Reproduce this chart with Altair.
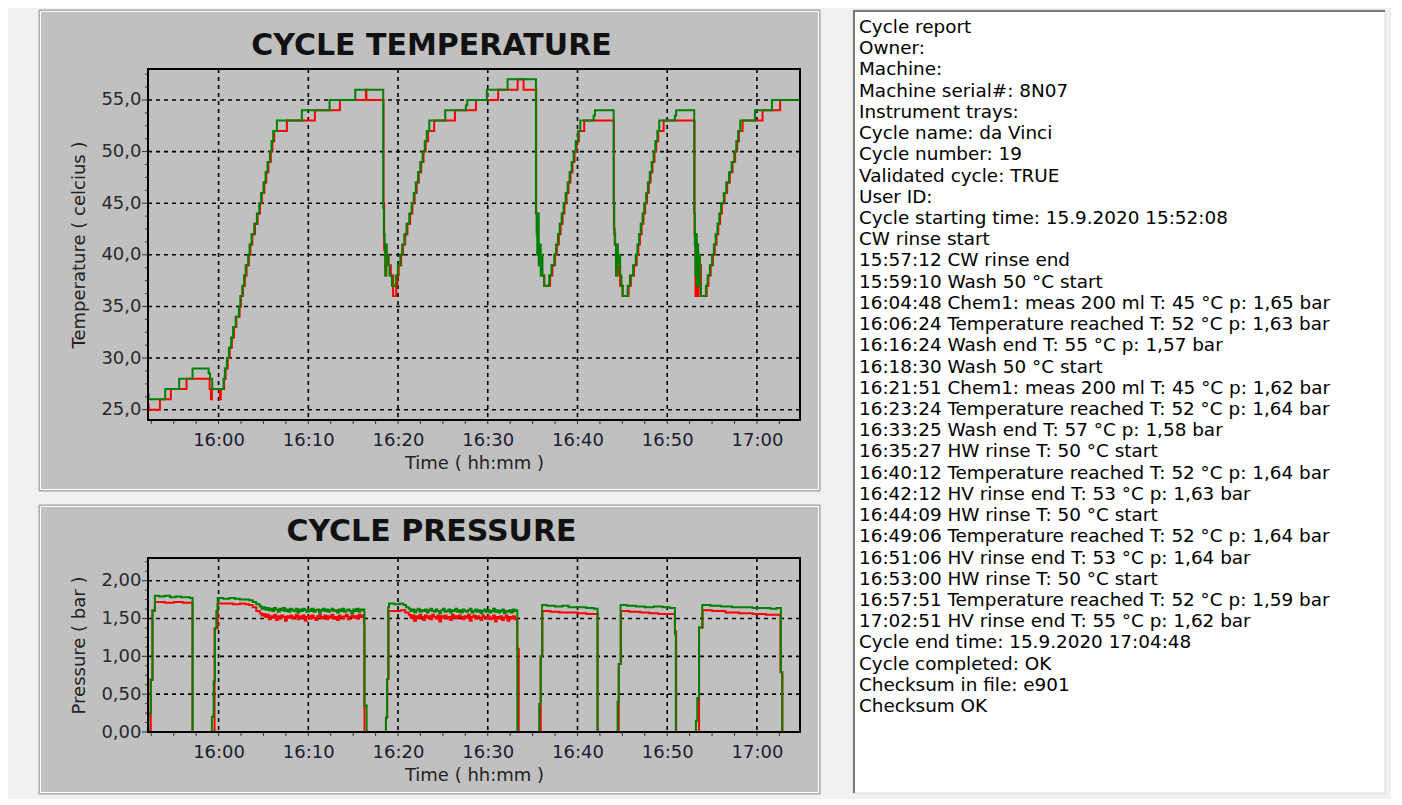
import altair as alt
import numpy as np
import pandas as pd

# ---------------------------------------------------------------
# DATA  (time = minutes after 16:00; cycle 15:52:08 -> 17:04:48)
# ---------------------------------------------------------------
X_DOMAIN = [-7.867, 64.8]
X_MAJOR = [0, 10, 20, 30, 40, 50, 60]
X_TICKS = [-7.5, -5, -2.5, 0, 2.5, 5, 7.5, 10, 12.5, 15, 17.5, 20, 22.5, 25, 27.5,
           30, 32.5, 35, 37.5, 40, 42.5, 45, 47.5, 50, 52.5, 55, 57.5, 60, 62.5]

T_DOMAIN = [24, 58]
T_MAJOR = [25, 30, 35, 40, 45, 50, 55]
T_MINOR = [26.25, 27.5, 28.75, 31.25, 32.5, 33.75, 36.25, 37.5, 38.75, 41.25, 42.5,
           43.75, 46.25, 47.5, 48.75, 51.25, 52.5, 53.75, 56.25, 57.5]

P_DOMAIN = [0, 2.3]
P_MAJOR = [0, 0.5, 1.0, 1.5, 2.0]
P_MINOR = [0.125, 0.25, 0.375, 0.625, 0.75, 0.875, 1.125, 1.25, 1.375, 1.625, 1.75,
           1.875, 2.125, 2.25]

TEMP_GREEN_MIN = [
    -7.867, -7.80, -5.95, -4.39, -2.90, -1.11, -0.95, -0.71, 0.55, 0.70, 0.93, 1.15,
    1.40, 1.62, 1.90, 2.26, 2.42, 2.64, 2.84, 3.02, 3.30, 3.45, 3.67, 3.97, 4.27, 4.53,
    4.73, 5.01, 5.23, 5.45, 5.72, 5.90, 6.09, 6.50, 9.28, 12.37, 15.23,
    18.35, 18.42, 18.50, 18.58, 18.66, 18.75, 18.90, 19.05, 19.32, 19.76, 19.98, 20.25,
    20.45, 20.70, 20.95, 21.25, 21.51, 21.75, 21.98, 22.22, 22.48, 22.74, 22.98, 23.20,
    23.48, 25.26, 27.56, 27.72, 29.90, 32.21,
    35.37, 35.45, 35.52, 35.60, 35.68, 35.80, 35.90, 36.00, 36.10, 36.29, 36.85, 37.10,
    37.41, 37.60, 37.82, 38.02, 38.24, 38.45, 38.68, 38.90, 39.12, 39.35, 39.57, 39.80,
    40.05, 40.31, 41.80, 41.95,
    44.03, 44.10, 44.20, 44.30, 44.38, 44.50, 44.62, 44.75, 44.90, 45.03, 45.59, 45.85,
    46.20, 46.50, 46.68, 46.86, 47.05, 47.25, 47.44, 47.65, 47.85, 48.05, 48.26, 48.48,
    48.68, 48.90, 49.11, 50.86, 51.00,
    53.01, 53.08, 53.15, 53.22, 53.30, 53.38, 53.45, 53.55, 53.65, 53.76, 54.31, 54.50,
    54.75, 55.00, 55.20, 55.40, 55.60, 55.80, 55.99, 56.30, 56.58, 56.88, 57.18, 57.47,
    57.70, 57.90, 58.14, 59.78, 61.67, 64.80]
TEMP_GREEN_C = [
    26.5, 26, 27, 28, 29, 28.5, 28, 27, 28, 29, 30, 31,
    32, 33, 34, 35, 36, 37, 38, 39, 40, 41, 42, 43, 44, 45,
    46, 47, 48, 49, 50, 51, 52, 53, 54, 55, 56,
    44.5, 42, 41, 38, 41, 40, 39, 38, 37, 38, 39, 40,
    41, 42, 43, 44, 45, 46, 47, 48, 49, 50, 51, 52,
    53, 54, 54.5, 55, 56, 57,
    44, 42, 40, 44, 39, 41, 38, 40, 38, 37, 38, 39,
    40, 41, 42, 43, 44, 45, 46, 47, 48, 49, 50, 51,
    52, 53, 53.5, 54,
    45, 42, 41, 38, 41, 39, 40, 38, 37, 36, 37, 38,
    39, 40, 41, 42, 43, 44, 45, 46, 47, 48, 49, 50,
    51, 52, 53, 53.5, 54,
    44, 41, 38, 42, 37, 41, 37, 40, 37, 36, 37, 38,
    39, 40, 41, 42, 43, 44, 45, 46, 47, 48, 49, 50,
    51, 52, 53, 54, 55, 55]

TEMP_RED_MIN = [
    -7.867, -7.80, -6.54, -5.32, -3.57, -1.00, -0.85, -0.75, 0.15, 0.25, 0.62, 0.78,
    1.02, 1.24, 1.48, 1.72, 1.98, 2.34, 2.50, 2.72, 2.93, 3.12, 3.38, 3.55, 3.76, 4.06,
    4.36, 4.62, 4.82, 5.10, 5.32, 5.55, 5.82, 6.00, 6.20, 7.61, 10.73, 13.52, 16.42, 16.48,
    18.38, 18.45, 18.60, 18.70, 18.95, 19.20, 19.45, 19.80, 19.92, 20.08, 20.35, 20.55,
    20.80, 21.05, 21.35, 21.60, 21.85, 22.08, 22.32, 22.58, 22.84, 23.08, 23.35, 24.03,
    26.34, 28.68, 31.16, 33.33, 33.99,
    35.40, 35.50, 35.60, 35.75, 36.00, 36.29, 36.95, 37.20, 37.50, 37.70, 37.92, 38.12,
    38.34, 38.55, 38.78, 39.00, 39.22, 39.45, 39.67, 39.90, 40.15, 40.75,
    44.06, 44.15, 44.30, 44.50, 44.75, 45.03, 45.70, 45.95, 46.30, 46.60, 46.78, 46.96,
    47.15, 47.35, 47.54, 47.75, 47.95, 48.15, 48.36, 48.58, 48.78, 49.00, 49.60,
    53.05, 53.15, 53.25, 53.35, 53.50, 53.76, 54.40, 54.60, 54.85, 55.10, 55.30, 55.50,
    55.70, 55.90, 56.09, 56.40, 56.68, 56.98, 57.28, 57.57, 57.80, 58.00, 58.40, 60.63,
    62.59, 64.80]
TEMP_RED_C = [
    25.5, 25, 26, 27, 28, 27, 26, 27, 26, 27, 28, 29,
    30, 31, 32, 33, 34, 35, 36, 37, 38, 39, 40, 41, 42, 43,
    44, 45, 46, 47, 48, 49, 50, 51, 52, 53, 54, 55, 56, 55,
    45, 40.5, 38, 40, 39, 38, 36, 37, 38, 39, 40, 41,
    42, 43, 44, 45, 46, 47, 48, 49, 50, 51, 52, 53,
    54, 55, 56, 57, 56,
    44, 43, 40, 39, 38, 37, 38, 39, 40, 41, 42, 43,
    44, 45, 46, 47, 48, 49, 50, 51, 52, 53,
    42.5, 41, 38, 39, 37, 36, 37, 38, 39, 40, 41, 42,
    43, 44, 45, 46, 47, 48, 49, 50, 51, 52, 53,
    42, 36, 40, 36, 39, 36, 37, 38, 39, 40, 41, 42,
    43, 44, 45, 46, 47, 48, 49, 50, 51, 52, 53, 54,
    55, 55]

# pressure (bar), green
PRES_GREEN_T1 = [-7.867, -7.80, -7.56, -7.37, -7.10, -6.6, -6.0, -5.4, -4.8, -4.2, -3.6,
                 -3.2, -2.90, -0.75, -0.55, -0.40, -0.25, -0.10, 0.5, 1.2, 1.8, 2.4, 3.0,
                 3.4, 3.8, 4.2]
PRES_GREEN_V1 = [0.00, 0.25, 0.69, 1.61, 1.80, 1.79, 1.80, 1.78, 1.79, 1.78, 1.78,
                 1.77, 0.00, 0.20, 0.67, 1.37, 1.60, 1.77, 1.76, 1.77, 1.76, 1.75, 1.75,
                 1.74, 1.72, 1.69]
PRES_GREEN_NOISE1_SPAN = [4.6, 16.2]
PRES_GREEN_NOISE1 = [
    1.66, 1.63, 1.65, 1.62, 1.64, 1.61, 1.63, 1.60, 1.64, 1.62,
    1.59, 1.63, 1.61, 1.64, 1.60, 1.62, 1.59, 1.63, 1.61, 1.60,
    1.63, 1.58, 1.62, 1.60, 1.63, 1.61, 1.59, 1.62, 1.60, 1.63,
    1.59, 1.61, 1.62, 1.58, 1.61, 1.63, 1.60, 1.62, 1.59, 1.61,
    1.63, 1.60, 1.61, 1.58, 1.62, 1.60, 1.63, 1.59, 1.61, 1.62,
    1.60, 1.57, 1.62, 1.60, 1.63, 1.59, 1.62, 1.61, 1.62]
PRES_GREEN_T2 = [16.25, 16.50, 18.65, 18.78, 18.90, 19.0, 19.6, 20.2, 20.6, 20.9]
PRES_GREEN_V2 = [0.35, 0.00, 0.19, 0.70, 1.65, 1.70, 1.69, 1.70, 1.68, 1.65]
PRES_GREEN_NOISE2_SPAN = [21.2, 33.2]
PRES_GREEN_NOISE2 = [
    1.63, 1.60, 1.62, 1.58, 1.61, 1.63, 1.59, 1.61, 1.60, 1.62,
    1.58, 1.61, 1.63, 1.60, 1.59, 1.62, 1.60, 1.57, 1.61, 1.63,
    1.59, 1.60, 1.62, 1.58, 1.61, 1.60, 1.63, 1.59, 1.61, 1.58,
    1.62, 1.60, 1.59, 1.61, 1.63, 1.58, 1.60, 1.62, 1.59, 1.61,
    1.57, 1.60, 1.62, 1.59, 1.61, 1.58, 1.60, 1.63, 1.59, 1.61,
    1.58, 1.60, 1.62, 1.57, 1.60, 1.59, 1.61, 1.58, 1.62, 1.60, 1.61]
PRES_GREEN_T3 = [33.30, 35.73, 35.90, 36.05, 36.6, 37.5, 38.3, 39.0, 40.0, 41.0, 41.8,
                 42.24, 44.47, 44.60, 44.80, 45.5, 46.5, 47.5, 48.5, 49.5, 50.3, 50.86,
                 50.96, 53.20, 53.35, 53.55, 53.90, 54.8, 56.0, 57.2, 58.5, 59.5, 60.5,
                 61.5, 62.2, 62.67, 62.80, 64.8]
PRES_GREEN_V3 = [0.00, 0.37, 1.00, 1.68, 1.67, 1.66, 1.67, 1.65, 1.65, 1.64, 1.63,
                 0.00, 0.40, 0.90, 1.68, 1.67, 1.66, 1.65, 1.66, 1.65, 1.64, 1.30,
                 0.00, 0.15, 0.45, 1.38, 1.68, 1.67, 1.66, 1.65, 1.65, 1.64, 1.64,
                 1.63, 1.64, 0.79, 0.00, 0.00]

# pressure (bar), red
PRES_RED_T1 = [-7.867, -7.56, -7.37, -7.10, -6.0, -5.0, -4.0, -3.2, -2.90, -0.45, -0.10,
               0.8, 1.6, 2.4, 3.0, 3.4, 3.8, 4.2]
PRES_RED_V1 = [0.00, 0.69, 1.60, 1.72, 1.71, 1.72, 1.71, 1.71, 0.00, 1.37, 1.70,
               1.70, 1.69, 1.70, 1.69, 1.68, 1.65, 1.60]
PRES_RED_NOISE1_SPAN = [4.6, 16.2]
PRES_RED_NOISE1 = [
    1.57, 1.54, 1.56, 1.52, 1.55, 1.49, 1.53, 1.51, 1.55, 1.48,
    1.53, 1.50, 1.54, 1.52, 1.47, 1.53, 1.51, 1.54, 1.50, 1.52,
    1.55, 1.49, 1.53, 1.51, 1.54, 1.47, 1.52, 1.53, 1.50, 1.54,
    1.51, 1.48, 1.53, 1.55, 1.50, 1.52, 1.54, 1.49, 1.53, 1.51,
    1.55, 1.50, 1.52, 1.48, 1.54, 1.52, 1.50, 1.53, 1.55, 1.49,
    1.52, 1.54, 1.51, 1.53, 1.50, 1.55, 1.52, 1.54, 1.43]
PRES_RED_T2 = [16.26, 18.65, 18.80, 18.95, 19.6, 20.3, 20.8]
PRES_RED_V2 = [0.00, 0.19, 0.70, 1.60, 1.60, 1.61, 1.58]
PRES_RED_NOISE2_SPAN = [21.2, 33.2]
PRES_RED_NOISE2 = [
    1.55, 1.51, 1.54, 1.47, 1.53, 1.50, 1.55, 1.52, 1.48, 1.54,
    1.51, 1.53, 1.49, 1.55, 1.52, 1.50, 1.54, 1.46, 1.53, 1.51,
    1.54, 1.50, 1.52, 1.48, 1.55, 1.51, 1.53, 1.50, 1.54, 1.52,
    1.49, 1.53, 1.51, 1.55, 1.47, 1.52, 1.54, 1.50, 1.53, 1.51,
    1.48, 1.54, 1.52, 1.50, 1.53, 1.49, 1.51, 1.54, 1.46, 1.52,
    1.50, 1.53, 1.48, 1.51, 1.54, 1.47, 1.52, 1.50, 1.53, 1.49, 1.51]
PRES_RED_T3 = [33.28, 33.45, 35.90, 36.10, 37.0, 38.0, 39.0, 40.0, 41.0, 41.8, 42.24,
               44.60, 44.85, 45.8, 47.0, 48.0, 49.0, 50.0, 50.86, 51.00, 53.55, 53.95,
               55.0, 56.5, 58.0, 59.5, 61.0, 62.2, 62.62, 62.85, 64.8]
PRES_RED_V3 = [1.10, 0.00, 1.00, 1.60, 1.59, 1.58, 1.58, 1.57, 1.56, 1.56, 0.00,
               0.90, 1.60, 1.59, 1.58, 1.57, 1.56, 1.56, 1.33, 0.00, 1.38, 1.61,
               1.60, 1.58, 1.57, 1.56, 1.55, 1.55, 0.79, 0.00, 0.00]

REPORT_LINES = [
    "Cycle report",
    "Owner:",
    "Machine:",
    "Machine serial#: 8N07",
    "Instrument trays:",
    "Cycle name: da Vinci",
    "Cycle number: 19",
    "Validated cycle: TRUE",
    "User ID:",
    "Cycle starting time: 15.9.2020 15:52:08",
    "CW rinse start",
    "15:57:12 CW rinse end",
    "15:59:10 Wash 50 °C start",
    "16:04:48 Chem1: meas 200 ml T: 45 °C p: 1,65 bar",
    "16:06:24 Temperature reached T: 52 °C p: 1,63 bar",
    "16:16:24 Wash end T: 55 °C p: 1,57 bar",
    "16:18:30 Wash 50 °C start",
    "16:21:51 Chem1: meas 200 ml T: 45 °C p: 1,62 bar",
    "16:23:24 Temperature reached T: 52 °C p: 1,64 bar",
    "16:33:25 Wash end T: 57 °C p: 1,58 bar",
    "16:35:27 HW rinse T: 50 °C start",
    "16:40:12 Temperature reached T: 52 °C p: 1,64 bar",
    "16:42:12 HV rinse end T: 53 °C p: 1,63 bar",
    "16:44:09 HW rinse T: 50 °C start",
    "16:49:06 Temperature reached T: 52 °C p: 1,64 bar",
    "16:51:06 HV rinse end T: 53 °C p: 1,64 bar",
    "16:53:00 HW rinse T: 50 °C start",
    "16:57:51 Temperature reached T: 52 °C p: 1,59 bar",
    "17:02:51 HV rinse end T: 55 °C p: 1,62 bar",
    "Cycle end time: 15.9.2020 17:04:48",
    "Cycle completed: OK",
    "Checksum in file: e901",
    "Checksum OK",
]

# ---------------------------------------------------------------
# BUILD TABLES
# ---------------------------------------------------------------
def series(pieces):
    ts, vs = [], []
    for kind, a, b in pieces:
        if kind == "pts":
            ts += list(a)
            vs += list(b)
        else:  # equally spaced samples over a span
            ts += list(np.linspace(a[0], a[1], len(b)))
            vs += list(b)
    return pd.DataFrame({"t": ts, "v": vs}).sort_values("t")


temp_green = pd.DataFrame({"t": TEMP_GREEN_MIN, "v": TEMP_GREEN_C})
temp_red = pd.DataFrame({"t": TEMP_RED_MIN, "v": TEMP_RED_C})
pres_green = series([
    ("pts", PRES_GREEN_T1, PRES_GREEN_V1),
    ("span", PRES_GREEN_NOISE1_SPAN, PRES_GREEN_NOISE1),
    ("pts", PRES_GREEN_T2, PRES_GREEN_V2),
    ("span", PRES_GREEN_NOISE2_SPAN, PRES_GREEN_NOISE2),
    ("pts", PRES_GREEN_T3, PRES_GREEN_V3),
])
pres_red = series([
    ("pts", PRES_RED_T1, PRES_RED_V1),
    ("span", PRES_RED_NOISE1_SPAN, PRES_RED_NOISE1),
    ("pts", PRES_RED_T2, PRES_RED_V2),
    ("span", PRES_RED_NOISE2_SPAN, PRES_RED_NOISE2),
    ("pts", PRES_RED_T3, PRES_RED_V3),
])
report = pd.DataFrame({"i": list(range(len(REPORT_LINES))), "line": REPORT_LINES})
one = pd.DataFrame({"k": [0]})

# ---------------------------------------------------------------
# STYLE
# ---------------------------------------------------------------
FONT = "DejaVu Sans"
LABEL_COLOR = "#1c1c30"
W = 652
GREEN = "#008000"
RED = "#ff0000"
PANEL = "#c0c0c0"

X_LABEL_EXPR = ("floor((960 + datum.value) / 60) + ':' + "
                "(((960 + datum.value) % 60) < 10 ? '0' : '') + ((960 + datum.value) % 60)")


def x_axis():
    return alt.Axis(values=X_MAJOR, labelExpr=X_LABEL_EXPR, title="Time ( hh:mm )",
                    grid=False, domain=False, ticks=False, labelFlush=False,
                    labelFont=FONT, labelFontSize=18, labelColor=LABEL_COLOR,
                    labelPadding=11, titleFont=FONT, titleFontSize=18,
                    titleFontWeight="normal", titleColor="#222222", titlePadding=5,
                    zindex=1)


def y_axis(values, fmt, title):
    return alt.Axis(values=values, labelExpr=f"replace(format(datum.value, '{fmt}'), '.', ',')",
                    title=title, grid=False, domain=False, ticks=False,
                    labelFont=FONT, labelFontSize=18, labelColor="#2a2a2a",
                    labelPadding=7, titleFont=FONT, titleFontSize=18,
                    titleFontWeight="normal", titleColor="#222222", titlePadding=12,
                    zindex=1)


def panel(h, y_dom, y_major, y_minor, fmt, y_title, title, title_y, green, red,
          rect_top, rect_bottom):
    xs = alt.Scale(domain=X_DOMAIN, nice=False, zero=False)
    ys = alt.Scale(domain=y_dom, nice=False, zero=False)
    X = lambda: alt.X("t:Q", scale=xs, axis=x_axis())
    Y = lambda: alt.Y("v:Q", scale=ys, axis=y_axis(y_major, fmt, y_title))

    outer = alt.Chart(one).mark_rect(fill=PANEL, stroke="#a0a0a0", strokeWidth=1).encode(
        x=alt.value(-109), x2=alt.value(W + 20), y=alt.value(rect_top), y2=alt.value(rect_bottom))
    inner = alt.Chart(one).mark_rect(fillOpacity=0, stroke="white", strokeWidth=1).encode(
        x=alt.value(-107.5), x2=alt.value(W + 18.5), y=alt.value(rect_top + 1.5),
        y2=alt.value(rect_bottom - 1.5))

    hgrid = alt.Chart(pd.DataFrame({"v": y_major})).mark_rule(
        color="black", strokeWidth=1.6, strokeDash=[4, 4]).encode(
        y=Y(), x=alt.value(0), x2=alt.value(W))
    vgrid = alt.Chart(pd.DataFrame({"t": X_MAJOR})).mark_rule(
        color="black", strokeWidth=1.6, strokeDash=[4, 4]).encode(
        x=X(), y=alt.value(0), y2=alt.value(h))
    xticks = alt.Chart(pd.DataFrame({"t": X_TICKS})).mark_rule(
        color="#333333", strokeWidth=1).encode(x=X(), y=alt.value(h), y2=alt.value(h + 4))
    ymaj = alt.Chart(pd.DataFrame({"v": y_major})).mark_rule(
        color="#333333", strokeWidth=1).encode(y=Y(), x=alt.value(-6), x2=alt.value(0))
    ymin = alt.Chart(pd.DataFrame({"v": y_minor})).mark_rule(
        color="#333333", strokeWidth=1).encode(y=Y(), x=alt.value(-3), x2=alt.value(0))

    red_line = alt.Chart(red).mark_line(color=RED, strokeWidth=2, interpolate="step-after").encode(
        x=X(), y=Y())
    green_line = alt.Chart(green).mark_line(color=GREEN, strokeWidth=2, interpolate="step-after").encode(
        x=X(), y=Y())

    frame = alt.Chart(one).mark_rect(fillOpacity=0, stroke="black", strokeWidth=2).encode(
        x=alt.value(0), x2=alt.value(W), y=alt.value(0), y2=alt.value(h))
    head = alt.Chart(one).mark_text(text=title, font=FONT, fontSize=30, fontWeight="bold",
                                    align="center", baseline="alphabetic", color="#111111").encode(
        x=alt.value(283.5), y=alt.value(title_y))

    return alt.layer(outer, inner, hgrid, vgrid, xticks, ymaj, ymin, red_line, green_line,
                     frame, head).properties(
        width=W, height=h, view=alt.ViewBackground(stroke="transparent", fill="transparent"))


temp_chart = panel(351, T_DOMAIN, T_MAJOR, T_MINOR, ".1f", "Temperature ( celcius )",
                   "CYCLE TEMPERATURE", -14, temp_green, temp_red, -59, 422)
pres_chart = panel(174, P_DOMAIN, P_MAJOR, P_MINOR, ".2f", "Pressure ( bar )",
                   "CYCLE PRESSURE", -17, pres_green, pres_red, -53, 236)

# report text box (its origin lines up with the temperature plot origin)
TEXT_W = 532
BOX_TOP = -59
TEXT_H = 724
text_marks = alt.Chart(report).mark_text(
    align="left", baseline="alphabetic", font=FONT, fontSize=18.4, color="black").encode(
    x=alt.value(6),
    y=alt.Y("i:Q", scale=alt.Scale(domain=[1.6965, 35.815], reverse=True, nice=False, zero=False),
            axis=None),
    text="line:N")
box = alt.Chart(one).mark_rect(fill="white", stroke="#d8d8d8", strokeWidth=1).encode(
    x=alt.value(0), x2=alt.value(TEXT_W), y=alt.value(BOX_TOP), y2=alt.value(TEXT_H))
top_edge = alt.Chart(one).mark_rule(color="#7a7a7a", strokeWidth=2).encode(
    x=alt.value(0), x2=alt.value(TEXT_W), y=alt.value(BOX_TOP + 1))
left_edge = alt.Chart(one).mark_rule(color="#7a7a7a", strokeWidth=2).encode(
    x=alt.value(1), y=alt.value(BOX_TOP), y2=alt.value(TEXT_H))
text_chart = alt.layer(box, top_edge, left_edge, text_marks).properties(
    width=TEXT_W, height=TEXT_H,
    view=alt.ViewBackground(fill="transparent", stroke="transparent"))

left = alt.vconcat(temp_chart, pres_chart, spacing=12)
chart = alt.hconcat(left, text_chart, spacing=30).properties(
    padding={"left": 30, "top": 0, "right": 4, "bottom": 4},
    background="#f0f0f0")

chart.save("out.html", embed_options={"renderer": "svg", "actions": False})
